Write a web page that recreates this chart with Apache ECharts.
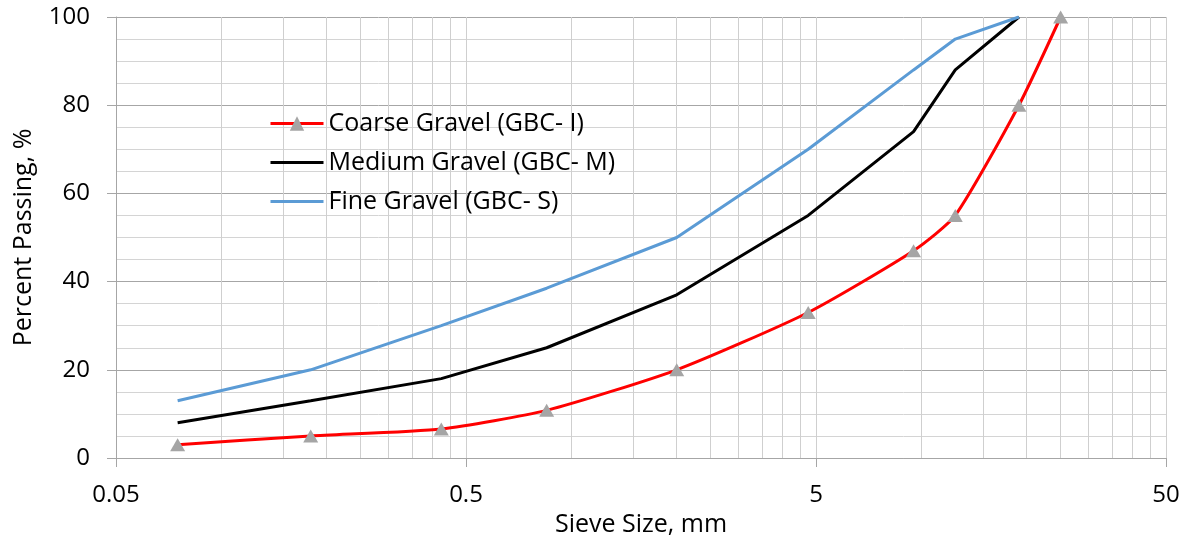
<!DOCTYPE html>
<html>
<head>
<meta charset="utf-8">
<script src="https://cdn.jsdelivr.net/npm/echarts@6/dist/echarts.min.js"></script>
<style>
html,body{margin:0;padding:0;background:#fff;}
#chart{width:1188px;height:535px;}
</style>
</head>
<body>
<div id="chart"></div>
<script>
// ---- data ----
const sieveSizes = [0.075, 0.18, 0.425, 0.85, 2, 4.75, 9.5, 12.5, 19, 25];
const coarseGravel = [3, 5, 6.6, 10.8, 20, 33, 47, 55, 80, 100];
const mediumGravel = [8, 13, 18, 25, 37, 55, 74, 88, 100, null];
const fineGravel = [13, 20, 30, 38.5, 50, 70, 88, 95, 100, null];
const seriesNames = ['Coarse Gravel (GBC- I)', 'Medium Gravel (GBC- M)', 'Fine Gravel (GBC- S)'];
const xTickValues = [0.05, 0.5, 5, 50];
const xGridValues = [0.1, 0.15, 0.2, 0.25, 0.3, 0.35, 0.4, 0.45, 0.5,
  1, 1.5, 2, 2.5, 3, 3.5, 4, 4.5, 5,
  10, 15, 20, 25, 30, 35, 40, 45, 50];
const yTicks = [0, 20, 40, 60, 80, 100];

function pairs(vals) {
  const out = [];
  vals.forEach((v, i) => { if (v !== null) out.push([sieveSizes[i], v]); });
  return out;
}

const FONT = '"Open Sans", "Noto Sans", sans-serif';
const chart = echarts.init(document.getElementById('chart'), null, {renderer: 'canvas'});
chart.setOption({
  animation: false,
  backgroundColor: '#ffffff',
  textStyle: {fontFamily: FONT},
  grid: {left: 116, right: 22, top: 17, bottom: 77, containLabel: false, outerBoundsMode: 'none'},
  legend: {
    orient: 'vertical',
    left: 269,
    top: 111,
    padding: 0,
    itemWidth: 53,
    itemHeight: 18,
    itemGap: 14,
    lineStyle: {width: 3},
    textStyle: {fontFamily: FONT, fontSize: 25, color: '#000'},
    data: [
      {name: seriesNames[0]},
      {name: seriesNames[1], itemStyle: {opacity: 0}},
      {name: seriesNames[2], itemStyle: {opacity: 0}}
    ]
  },
  xAxis: [{
    type: 'log',
    logBase: 10,
    min: 0.05,
    max: 50,
    name: 'Sieve Size, mm',
    nameLocation: 'middle',
    nameGap: 47,
    nameTextStyle: {fontFamily: FONT, fontSize: 25, color: '#000'},
    axisLine: {show: true, lineStyle: {color: '#a6a6a6', width: 1}},
    axisTick: {show: true, inside: false, length: 9, lineStyle: {color: '#a6a6a6'}, customValues: xTickValues},
    axisLabel: {show: true, customValues: xTickValues, margin: 25, fontFamily: FONT, fontSize: 24, color: '#000',
      formatter: function (v) { return String(+v.toPrecision(3)); }},
    splitLine: {show: false}
  }, {
    type: 'log',
    logBase: 10,
    min: 0.05,
    max: 50,
    position: 'bottom',
    axisLine: {show: false},
    axisTick: {show: false, customValues: xGridValues},
    axisLabel: {show: false},
    splitLine: {show: true, lineStyle: {color: '#cfcfcf', width: 1}}
  }],
  yAxis: {
    type: 'value',
    min: 0,
    max: 100,
    interval: 20,
    name: 'Percent Passing, %',
    nameLocation: 'middle',
    nameGap: 80,
    nameRotate: 90,
    nameTextStyle: {fontFamily: FONT, fontSize: 25, color: '#000'},
    axisLine: {show: true, lineStyle: {color: '#a6a6a6', width: 1}},
    axisTick: {show: true, inside: false, length: 9, lineStyle: {color: '#a6a6a6'}},
    axisLabel: {margin: 26, fontFamily: FONT, fontSize: 24, color: '#000'},
    splitLine: {show: true, lineStyle: {color: '#a6a6a6', width: 1}},
    minorTick: {show: false, splitNumber: 4},
    minorSplitLine: {show: true, lineStyle: {color: '#d4d4d4', width: 1}}
  },
  series: [{
    name: seriesNames[0],
    type: 'line',
    xAxisIndex: 0,
    data: pairs(coarseGravel),
    smooth: 0.2,
    symbol: 'triangle',
    symbolSize: [15, 13],
    showSymbol: true,
    itemStyle: {color: '#a5a5a5'},
    lineStyle: {color: '#ff0000', width: 3},
    z: 3
  }, {
    name: seriesNames[1],
    type: 'line',
    xAxisIndex: 0,
    data: pairs(mediumGravel),
    symbol: 'none',
    itemStyle: {color: '#000000'},
    lineStyle: {color: '#000000', width: 3},
    z: 2
  }, {
    name: seriesNames[2],
    type: 'line',
    xAxisIndex: 0,
    data: pairs(fineGravel),
    symbol: 'none',
    itemStyle: {color: '#5b9bd5'},
    lineStyle: {color: '#5b9bd5', width: 3},
    z: 2
  }]
});
</script>
</body>
</html>
